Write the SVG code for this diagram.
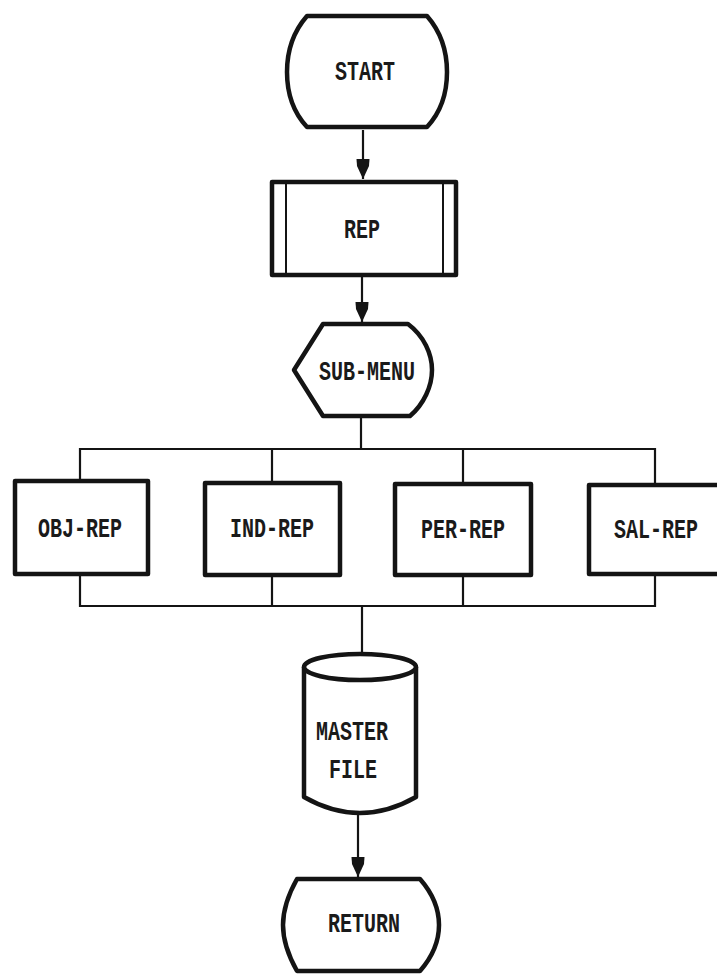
<svg xmlns="http://www.w3.org/2000/svg" width="717" height="975" viewBox="0 0 717 975">
<style>
.bg{fill:#ffffff}
.shape{fill:#ffffff;stroke:#141414;stroke-width:4.5;stroke-linejoin:round}
.thin{fill:none;stroke:#141414;stroke-width:2}
.conn{fill:none;stroke:#141414;stroke-width:2.2}
.t{font-family:"Liberation Mono","DejaVu Sans Mono",monospace;font-weight:bold;font-size:20px;fill:#1a1a1a;text-anchor:middle}
</style>
<defs>
<marker id="arr" viewBox="-1 -8 22 16" refX="20" refY="0" markerWidth="22" markerHeight="16" markerUnits="userSpaceOnUse" orient="auto">
<path d="M0,-6.5 L7,-6 L20,0 L7,6 L0,6.5 Z" fill="#141414"/>
</marker>
</defs>
<rect class="bg" x="0" y="0" width="717" height="975"/>

<g id="connectors">
<line class="conn" x1="363" y1="130" x2="363" y2="179" marker-end="url(#arr)"/>
<line class="conn" x1="362" y1="277" x2="362" y2="322" marker-end="url(#arr)"/>
<line class="conn" x1="361" y1="418" x2="361" y2="449"/>
<polyline class="conn" points="80,481 80,449 655,449 655,485"/>
<line class="conn" x1="272" y1="449" x2="272" y2="483"/>
<line class="conn" x1="463" y1="449" x2="463" y2="484"/>
<polyline class="conn" points="80,574 80,606 655,606 655,574"/>
<line class="conn" x1="272" y1="575" x2="272" y2="606"/>
<line class="conn" x1="463" y1="575" x2="463" y2="606"/>
<line class="conn" x1="362" y1="606" x2="362" y2="654"/>
<line class="conn" x1="358" y1="813" x2="358" y2="877" marker-end="url(#arr)"/>
</g>

<g id="start">
<path class="shape" d="M307,16 L427,16 C441,32 447,52 447,72 C447,92 441,112 427,127 L307,127 C293,112 287,92 287,72 C287,52 293,32 307,16 Z"/>
<text class="t" transform="translate(365,80) scale(1,1.4)">START</text>
</g>

<g id="rep">
<rect class="shape" x="272" y="182" width="184" height="93"/>
<line class="thin" x1="286" y1="184" x2="286" y2="273"/>
<line class="thin" x1="443" y1="184" x2="443" y2="273"/>
<text class="t" transform="translate(362,238) scale(1,1.4)">REP</text>
</g>

<g id="sub-menu">
<path class="shape" d="M323,324 L408,324 C424,336 432,354 432,370 C432,386 424,404 410,416 L323,416 L294,370 Z"/>
<text class="t" transform="translate(367,380) scale(1,1.4)">SUB-MENU</text>
</g>

<g id="obj-rep">
<rect class="shape" x="15" y="481" width="133" height="93"/>
<text class="t" transform="translate(80,537) scale(1,1.4)">OBJ-REP</text>
</g>

<g id="ind-rep">
<rect class="shape" x="205" y="483" width="135" height="92"/>
<text class="t" transform="translate(272,537) scale(1,1.4)">IND-REP</text>
</g>

<g id="per-rep">
<rect class="shape" x="395" y="484" width="136" height="91"/>
<text class="t" transform="translate(463,538) scale(1,1.4)">PER-REP</text>
</g>

<g id="sal-rep">
<rect class="shape" x="589" y="485" width="140" height="89"/>
<text class="t" transform="translate(656,538) scale(1,1.4)">SAL-REP</text>
</g>

<g id="master-file">
<path class="shape" d="M304,667 L304,797 Q360,829 416,797 L416,667"/>
<ellipse class="shape" cx="360" cy="667" rx="56" ry="13"/>
<text class="t" transform="translate(352,740) scale(1,1.4)">MASTER</text>
<text class="t" transform="translate(353,778) scale(1,1.4)">FILE</text>
</g>

<g id="return">
<path class="shape" d="M297,879 L420,879 C434,895 439,910 439,925 C439,940 434,955 420,971 L297,971 C288,955 283,940 283,925 C283,910 288,895 297,879 Z"/>
<text class="t" transform="translate(364,932) scale(1,1.4)">RETURN</text>
</g>
</svg>
